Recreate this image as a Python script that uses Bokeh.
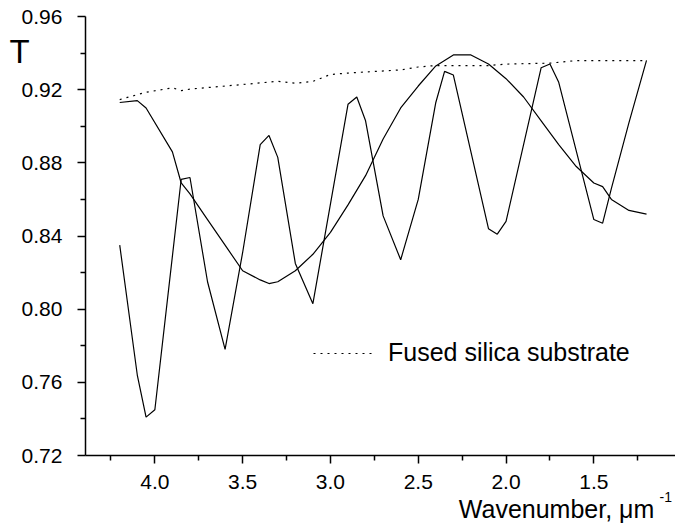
from bokeh.plotting import figure
from bokeh.embed import file_html
from bokeh.resources import INLINE
from bokeh.models import Range1d, FixedTicker, NumeralTickFormatter, Legend, LegendItem, Label

# ---- data ----
fast_x = [4.2, 4.1, 4.05, 4.0, 3.85, 3.8, 3.7, 3.6, 3.5, 3.4, 3.35, 3.3, 3.2, 3.1,
          2.9, 2.85, 2.8, 2.7, 2.6, 2.5, 2.4, 2.35, 2.3, 2.1, 2.05, 2.0,
          1.8, 1.75, 1.7, 1.5, 1.45, 1.4, 1.3, 1.2]
fast_y = [0.835, 0.764, 0.741, 0.745, 0.871, 0.872, 0.815, 0.778, 0.831, 0.890, 0.895, 0.883, 0.825, 0.803,
          0.912, 0.916, 0.903, 0.851, 0.827, 0.860, 0.913, 0.930, 0.928, 0.844, 0.841, 0.848,
          0.932, 0.934, 0.924, 0.849, 0.847, 0.866, 0.902, 0.936]

wide_x = [4.2, 4.1, 4.05, 3.9, 3.85, 3.8, 3.7, 3.6, 3.5, 3.4, 3.35, 3.3, 3.2, 3.1, 3.0,
          2.9, 2.8, 2.7, 2.6, 2.5, 2.4, 2.35, 2.3, 2.2, 2.1, 2.0, 1.9, 1.8, 1.7, 1.6,
          1.5, 1.45, 1.4, 1.3, 1.2]
wide_y = [0.913, 0.914, 0.910, 0.886, 0.869, 0.863, 0.849, 0.835, 0.821, 0.816, 0.814, 0.815, 0.821, 0.830, 0.842,
          0.857, 0.873, 0.893, 0.910, 0.922, 0.933, 0.936, 0.939, 0.939, 0.934, 0.926, 0.916, 0.903, 0.890, 0.878,
          0.869, 0.867, 0.860, 0.854, 0.852]

sub_x = [4.2, 4.05, 3.9, 3.85, 3.8, 3.6, 3.5, 3.3, 3.2, 3.1, 3.0, 2.9, 2.6, 2.5, 2.4, 2.1, 2.0, 1.75, 1.6, 1.2]
sub_y = [0.9146, 0.9186, 0.9210, 0.9195, 0.9203, 0.9220, 0.9228, 0.9246, 0.9235, 0.9245, 0.9283, 0.9291,
         0.9308, 0.9324, 0.9332, 0.9332, 0.9340, 0.9345, 0.9359, 0.9359]

x_ticks = [4.0, 3.5, 3.0, 2.5, 2.0, 1.5]
x_minor = [4.25, 3.75, 3.25, 2.75, 2.25, 1.75, 1.25]
y_ticks = [0.72, 0.76, 0.80, 0.84, 0.88, 0.92, 0.96]
y_minor = [0.74, 0.78, 0.82, 0.86, 0.90, 0.94]

x_axis_start, x_axis_end = 4.395, 1.0
y_axis_start, y_axis_end = 0.72, 0.96

legend_label = "Fused silica substrate"
x_label = "Wavenumber, \u03bcm"
x_label_sup = "-1"
y_label = "T"

FONT = "Liberation Sans"

# the frame covers the whole canvas; axes are pinned at the data corner
p = figure(width=675, height=528, output_backend="svg", toolbar_location=None,
           x_range=Range1d(4.879, 1.035), y_range=Range1d(0.6801, 0.96875),
           min_border_left=0, min_border_right=0, min_border_top=0, min_border_bottom=0)
p.xgrid.visible = False
p.ygrid.visible = False
p.outline_line_color = None
p.background_fill_color = "white"
p.border_fill_color = "white"

r_fast = p.line(fast_x, fast_y, line_color="black", line_width=1.2)
r_wide = p.line(wide_x, wide_y, line_color="black", line_width=1.2)
r_sub = p.line(sub_x, sub_y, line_color="black", line_width=1.2, line_dash="2 5")

p.xaxis[0].fixed_location = y_axis_start
p.xaxis[0].bounds = (x_axis_end, x_axis_start)
p.yaxis[0].fixed_location = x_axis_start
p.yaxis[0].bounds = (y_axis_start, y_axis_end)

for ax, ticks, minor, fmt, standoff in ((p.xaxis[0], x_ticks, x_minor, "0.0", 11),
                                        (p.yaxis[0], y_ticks, y_minor, "0.00", 15)):
    ax.ticker = FixedTicker(ticks=ticks, minor_ticks=minor)
    ax.formatter = NumeralTickFormatter(format=fmt)
    ax.axis_line_color = "black"
    ax.axis_line_width = 1.5
    ax.major_tick_line_color = "black"
    ax.major_tick_line_width = 1.5
    ax.minor_tick_line_color = "black"
    ax.minor_tick_line_width = 1.5
    ax.major_tick_in = 0
    ax.major_tick_out = 8
    ax.minor_tick_in = 0
    ax.minor_tick_out = 5
    ax.major_label_text_font = FONT
    ax.major_label_text_font_size = "21px"
    ax.major_label_text_color = "black"
    ax.major_label_standoff = standoff

legend = Legend(items=[LegendItem(label=legend_label, renderers=[r_sub])],
                location=(313, 161), glyph_width=62, glyph_height=20, label_standoff=13,
                padding=0, margin=0, spacing=0, border_line_color=None,
                background_fill_alpha=0, label_text_font=FONT, label_text_font_size="25px",
                label_text_color="black")
p.add_layout(legend)

p.add_layout(Label(x=4.828, y=0.9410, text=y_label, text_font=FONT, text_font_size="33px",
                   text_color="black", text_baseline="middle", text_align="left"))
p.add_layout(Label(x=2.269, y=0.6905, text=x_label, text_font=FONT, text_font_size="25px",
                   text_color="black", text_baseline="middle", text_align="left"))
p.add_layout(Label(x=1.126, y=0.6972, text=x_label_sup, text_font=FONT, text_font_size="14px",
                   text_color="black", text_baseline="middle", text_align="left"))

open("out.html", "w").write(file_html(p, INLINE))
